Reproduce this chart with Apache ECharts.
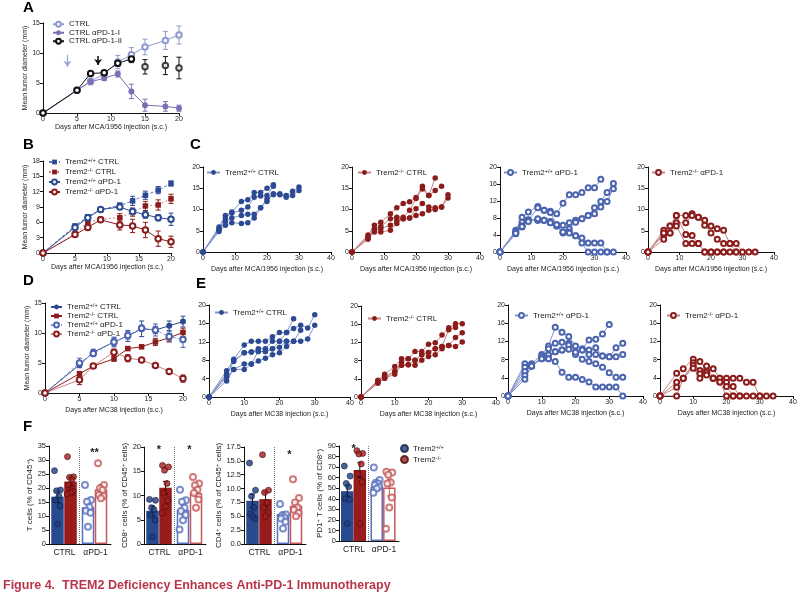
<!DOCTYPE html>
<html><head><meta charset="utf-8">
<script src="https://cdn.jsdelivr.net/npm/echarts@6/dist/echarts.min.js"></script>
<style>html,body{margin:0;padding:0;background:#fff}#c{width:807px;height:596px}</style>
</head><body><div id="c"></div>
<script>
// ================= DATA =================
// Panel A (MCA/1956)
const daysA = [0,5,7,9,11,13,15,18,20];
const A_ctrl = [0,3.8,5.3,6.5,8.5,9.7,11.0,12.1,13.0];
const A_ctrl_err = [0,0.4,0.5,0.6,1.1,1.2,1.3,1.5,1.5];
const A_pd1I = [0,3.8,5.2,5.8,6.5,3.6,1.3,1.1,0.8];
const A_pd1I_err = [0,0.4,0.5,0.4,0.5,1.2,1.0,0.8,0.5];
const A_pd1II = [0,3.8,6.6,6.7,8.3,9.0,7.7,7.9,7.5];
const A_pd1II_err = [0,0.3,0.3,0.3,0.5,0.6,1.2,1.5,1.8];
const A_arrows = [[3.6,9.7,7.7],[8.1,9.5,8.0]]; // [day, from, to]

// Panel B (MCA/1956 means)
const daysB = [0,5,7,9,12,14,16,18,20];
const B_wt_ctrl = [0,5.3,7.1,8.5,9.3,10.2,11.3,12.3,13.6];
const B_wt_ctrl_err = [0,0.3,0.4,0.4,0.5,0.9,0.8,0.7,0.5];
const B_ko_ctrl = [0,3.7,6.0,6.6,6.9,8.0,9.2,9.4,10.6];
const B_ko_ctrl_err = [0,0.3,0.4,0.3,0.8,0.8,0.9,1.0,0.9];
const B_wt_pd1 = [0,5.0,6.9,8.5,9.0,8.1,7.5,6.9,6.6];
const B_wt_pd1_err = [0,0.3,0.4,0.4,0.5,0.6,0.7,0.6,1.2];
const B_ko_pd1 = [0,3.6,5.0,6.5,5.5,5.3,4.5,2.8,2.2];
const B_ko_pd1_err = [0,0.4,0.5,0.5,1.0,1.3,1.5,1.5,1.1];

// Panel C (individual mice, MCA/1956)
const C1_mice = [
 [[0,0],[5,5.9],[7,8.6],[9,9.4],[12,11.9],[14,12.3],[16,14],[18,14],[20,15],[22,15.8]],
 [[0,0],[5,5.5],[7,8.0],[9,9.2],[12,9.8],[14,10.6],[16,12.9],[18,13.2],[20,13.3],[22,15.5]],
 [[0,0],[5,5.2],[7,7.2],[9,8.0],[12,8.6],[14,8.9],[16,8.9],[18,10.4],[20,11.9],[22,13.7],[24,13.7],[26,13.3],[28,14.3],[30,15.3]],
 [[0,0],[5,4.8],[7,6.3],[9,6.9],[12,6.7],[14,6.9],[16,8.0],[18,10.4],[20,12.5],[22,13.5],[24,13.5],[26,12.9],[28,13.3],[30,14.5]]
];
const C2_mice = [
 [[0,0],[5,4.0],[7,6.3],[9,7.0],[12,9.0],[14,10.4],[16,11.4],[18,11.8],[20,12.8],[22,15.5],[24,13.3],[26,17.4]],
 [[0,0],[5,3.6],[7,5.5],[9,6.0],[12,7.8],[14,8.2],[16,8.2],[18,9.8],[20,12.6],[22,14.8],[24,13.3],[26,14.5],[28,15.5]],
 [[0,0],[5,3.3],[7,5.2],[9,5.5],[12,6.3],[14,7.5],[16,7.8],[18,8.0],[20,10.2],[22,11.4],[24,10.6],[26,10.4],[28,10.6],[30,13.5]],
 [[0,0],[5,3.0],[7,4.7],[9,4.7],[12,5.1],[14,6.7],[16,7.8],[18,8.0],[20,8.6],[22,9.0],[24,9.8],[26,10.0],[28,10.6],[30,12.7]]
];
const C3_mice = [
 [[0,0],[5,5.1],[7,8.2],[9,9.4],[12,10.7],[14,9.8],[16,9.6],[18,9.0],[20,11.5],[22,13.5],[24,13.5],[26,14],[28,15.1],[30,15.1],[32,17.1]],
 [[0,0],[5,4.8],[7,7.0],[9,7.5],[12,10.4],[14,9.8],[16,9.3],[18,6.4],[20,6.3],[22,6.9],[24,7.5],[26,7.8],[28,8.6],[30,10.4],[32,11.9],[34,14],[36,16.1]],
 [[0,0],[5,4.3],[7,6.2],[9,7.6],[12,7.5],[14,7.5],[16,6.9],[18,6.1],[20,4.7],[22,5.5],[24,7.0],[26,7.8],[28,8.6],[30,9.0],[32,10.6],[34,11.9],[36,14.9]],
 [[0,0],[5,4.6],[7,5.9],[9,7.5],[12,7.5],[14,7.5],[16,7.2],[18,6.1],[20,4.5],[22,4.7],[24,3.8],[26,3.3],[28,2.1],[30,2.1],[32,2.1],[34,0]],
 [[0,0],[5,4.4],[7,6.0],[9,7.2],[12,7.8],[14,7.5],[16,6.9],[18,6.4],[20,4.7],[22,4.5],[24,3.8],[26,2.1],[28,0],[30,0],[32,0],[34,0],[36,0]]
];
const C4_mice = [
 [[0,0],[5,5.1],[7,6.1],[9,8.6],[12,8.6],[14,9.0],[16,8.2],[18,7.5],[20,6.1],[22,5.5],[24,5.1],[26,2],[28,0]],
 [[0,0],[5,4.1],[7,6.1],[9,6.9],[12,6.9],[14,8.6],[16,8.2],[18,6.3],[20,4.5],[22,3.0],[24,2],[26,2],[28,2],[30,0],[32,0],[34,0]],
 [[0,0],[5,3.0],[7,4.5],[9,8.6],[12,4.1],[14,3.9],[16,2],[18,0],[20,0],[22,0],[24,0],[26,0],[28,0]],
 [[0,0],[5,4.5],[7,4.5],[9,6.1],[12,2],[14,2],[16,2],[18,0],[20,0],[22,0],[24,0]]
];

// Panel D (MC38 means)
const daysD = [0,5,7,10,12,14,16,18,20];
const D_wt_ctrl = [0,4.7,6.8,8.5,9.5,10.7,10.5,11.2,11.9];
const D_wt_ctrl_err = [0,0.4,0.5,0.8,0.9,1.3,0.6,0.8,0.9];
const D_ko_ctrl = [0,3.2,4.5,5.7,7.4,7.7,8.5,9.2,10.1];
const D_ko_ctrl_err = [0,0.4,0.3,0.4,0.3,0.3,0.6,0.7,0.7];
const D_wt_pd1 = [0,5.0,6.6,8.5,9.6,10.8,10.5,9.4,8.9];
const D_wt_pd1_err = [0,0.8,0.5,0.6,0.6,0.5,1.0,0.8,1.3];
const D_ko_pd1 = [0,2.2,4.5,6.8,5.8,5.5,4.6,3.6,2.4];
const D_ko_pd1_err = [0,0.8,0.3,0.5,0.6,0.3,0.3,0.3,0.6];

// Panel E (individual mice, MC38)
const E1_mice = [
 [[0,0],[5,5.7],[7,8.2],[10,11.3],[12,12.1],[14,12.1],[16,12.1],[18,13.1],[20,14],[22,14],[24,17]],
 [[0,0],[5,5.0],[7,7.7],[10,9.6],[12,9.8],[14,10.5],[16,10.5],[18,12.1],[20,12.1],[22,14],[24,14.9],[26,15.6],[28,15],[30,17.9]],
 [[0,0],[5,4.6],[7,7.9],[10,9.6],[12,9.8],[14,9.9],[16,9.9],[18,10.5],[20,12.1],[22,12.1],[24,12.1],[26,14.5]],
 [[0,0],[5,3.5],[7,6.0],[10,6.0],[12,7.2],[14,7.8],[16,8.4],[18,9.2],[20,9.6],[22,11],[24,12.1],[26,12.1],[28,12.6],[30,15.6]],
 [[0,0],[5,4.3],[7,6.0],[10,7.2],[12,7.2],[14,9.9],[16,9.9],[18,10.5],[20,10.8],[22,12.1]]
];
const E2_mice = [
 [[0,0],[5,3.7],[7,5.0],[10,6.7],[12,8.4],[14,8.4],[16,10],[18,10],[20,11.6],[22,11.9],[24,13.6],[26,15.2],[28,16.1],[30,16.1]],
 [[0,0],[5,3.4],[7,4.6],[10,5.6],[12,7.6],[14,8.4],[16,8.1],[18,9.3],[20,9.8],[22,10.6],[24,11.1],[26,14.8],[28,15.3]],
 [[0,0],[5,3.2],[7,4.1],[10,5.6],[12,7.0],[14,7.1],[16,8.1],[18,9.3],[20,9.8],[22,10.6],[24,11.1],[26,11.3],[28,13.1],[30,14.1]],
 [[0,0],[5,3.0],[7,4.1],[10,5.0],[12,7.0],[14,7.1],[16,7.0],[18,8.1],[20,8.9],[22,9.3],[24,10.6],[26,11.3],[28,11.1],[30,12.1]]
];
const E3_mice = [
 [[0,0],[5,7.1],[7,7.1],[10,9.1],[12,11],[14,15.1],[16,14],[18,13.1],[20,11],[22,10.4],[24,12.3],[26,12.5],[28,13.6],[30,15.7]],
 [[0,0],[5,6.3],[7,6.6],[10,8.6],[12,10.4],[14,11.6],[16,11.8],[18,11.6],[20,9.6],[22,10.1],[24,10.1],[26,10.6],[28,8.8],[30,8.6],[32,10.6],[34,11.6]],
 [[0,0],[5,5.4],[7,6.6],[10,8.2],[12,9.0],[14,9.7],[16,10.1],[18,11.2],[20,9.1],[22,10.1],[24,9.1],[26,9.1],[28,8.8],[30,8.6],[32,8.6],[34,9.1]],
 [[0,0],[5,4.5],[7,6.6],[10,8.6],[12,8.2],[14,9.7],[16,10.1],[18,10.3],[20,9.6],[22,8.1],[24,7.6],[26,7.1],[28,6.3],[30,5.1],[32,4.1],[34,4.1]],
 [[0,0],[5,3.7],[7,6.6],[10,8.2],[12,8.2],[14,7.6],[16,5.2],[18,4.1],[20,4.1],[22,3.6],[24,3.1],[26,2],[28,2],[30,2],[32,2],[34,0]]
];
const E4_mice = [
 [[0,0],[5,5.0],[7,6.0],[10,8.1],[12,7.6],[14,5.6],[16,6.0],[18,3.9],[20,3.9],[22,3.9],[24,3.9],[26,3],[28,3],[30,0]],
 [[0,0],[5,3.0],[7,3.9],[10,7.3],[12,5.6],[14,6.6],[16,3.9],[18,3.1],[20,3.0],[22,2.1],[24,0],[26,0],[28,0],[30,0],[32,0],[34,0]],
 [[0,0],[5,1.9],[7,3.9],[10,6.7],[12,4.9],[14,5.1],[16,3.9],[18,3.9],[20,2.1],[22,0]],
 [[0,0],[5,0],[7,3.9],[10,6.1],[12,3.9],[14,4.6],[16,3.9],[18,3.1],[20,0],[22,0],[24,0]]
];

// Panel F (order: WT CTRL, KO CTRL, WT aPD-1, KO aPD-1)
const F_groups = ['CTRL','αPD-1'];
const F1_mean = [16.9,22.3,13.1,19.5], F1_sem = [2.0,1.5,1.3,1.7];
const F1_dots = [[26.2,19.3,19.0,17.1,15.7,13.6,7.1],[31.2,24.0,23.8,23.1,21.1,18.7,18.3,17.9],[21.1,15.7,15.1,13.1,11.9,11.2,6.2],[28.8,21.1,19.9,19.3,17.5,17.1,16.3]];
const F1_sig = [[1,32.6,'**']];
const F2_mean = [6.85,11.6,7.0,10.5], F2_sem = [1.0,1.3,1.0,0.8];
const F2_dots = [[9.2,9.0,7.5,7.1,6.0,4.9,1.5],[16.2,15.9,15.2,12.5,10.5,9.0,7.7,6.4],[11.2,9.0,8.7,7.5,6.8,6.0,4.9,3.0],[13.8,12.5,12.1,11.2,10.5,9.2,7.5]];
const F2_sig = [[0,19.3,'*'],[1,19.3,'*']];
const F3_mean = [7.8,8.1,5.4,6.9], F3_sem = [1.2,1.3,0.4,0.6];
const F3_dots = [[14.6,9.7,8.6,6.6,5.4,4.6,5.0],[16.1,9.7,9.3,7.5,6.6,5.6,5.0],[7.2,5.3,5.1,4.8,4.6,4.0,2.8],[11.7,8.3,7.5,6.6,6.2,5.6,5.0]];
const F3_sig = [[1,16.0,'*']];
const F4_mean = [47.2,67.2,51.3,50.7], F4_sem = [5,7,2.5,8];
const F4_dots = [[71,61.5,54.5,51.3,40.2,39.2,16.5],[85.6,83,82.4,73,64,56,16.5],[69.7,57.7,55.2,54.5,53,51.3,49.7,45.6],[65.5,65,62.7,55.5,54.5,41.2,31.7,11.7]];
const F4_sig = [[0,87,'*']];

// ================= BUILD =================
const FONT = "'Liberation Sans', Arial, sans-serif";
const NAVY='#2c4a93', DRED='#8c1c1c', LNAVY='#8394c8', LRED='#c48585', MBLUE='#4b64b0';
const RICH = {s:{fontSize:5.5, fontFamily:FONT, color:'#222', padding:[0,0,3,0]}};
const grid=[], xAxis=[], yAxis=[], series=[], legend=[], graphic=[];
const LAB = {
 A_c:'CTRL', A_1:'CTRL αPD-1-I', A_2:'CTRL αPD-1-II',
 B_wc:'Trem2{s|+/+} CTRL', B_kc:'Trem2{s|-/-} CTRL', B_wp:'Trem2{s|+/+} αPD-1', B_kp:'Trem2{s|-/-} αPD-1',
 D_wc:'Trem2{s|+/+} CTRL', D_kc:'Trem2{s|-/-} CTRL', D_wp:'Trem2{s|+/+} αPD-1', D_kp:'Trem2{s|-/-} αPD-1',
 C1:'Trem2{s|+/+} CTRL', C2:'Trem2{s|-/-} CTRL', C3:'Trem2{s|+/+} αPD-1', C4:'Trem2{s|-/-} αPD-1',
 E1:'Trem2{s|+/+} CTRL', E2:'Trem2{s|-/-} CTRL', E3:'Trem2{s|+/+} αPD-1', E4:'Trem2{s|-/-} αPD-1',
 F_wt:'Trem2{s|+/+}', F_ko:'Trem2{s|-/-}'
};
function axis(gi,c,isY){
  return {gridIndex:gi,type:c.type||'value',data:c.data,min:c.min,max:c.max,interval:c.interval,show:c.show!==false,
    name:c.name||'',nameLocation:'middle',nameGap:c.nameGap||12,nameRotate:isY?90:0,
    nameTextStyle:{fontSize:c.nameSize||7,fontFamily:FONT,color:'#222',rich:RICH},
    axisLine:{show:true,onZero:false,lineStyle:{color:'#111',width:1}},
    axisTick:{show:c.tick!==false,length:3,lineStyle:{color:'#111',width:1}},
    axisLabel:{fontSize:c.labelSize||7,fontFamily:FONT,color:'#222',margin:c.margin||3,formatter:c.fmt,interval:0},
    splitLine:{show:false}};
}
function addPanel(box,xc,yc){
  grid.push(Object.assign({},box)); const gi=grid.length-1;
  xAxis.push(axis(gi,xc,false)); yAxis.push(axis(gi,yc,true));
  return {gi, xi:xAxis.length-1, yi:yAxis.length-1};
}
const zip=(xs,ys)=>xs.map((x,i)=>[x,ys[i]]);
const zip3=(xs,ys,es)=>xs.map((x,i)=>[x,ys[i],es[i]]);
function line(ax,name,data,o){
  const s={type:'line',name,xAxisIndex:ax.xi,yAxisIndex:ax.yi,data,symbol:o.symbol,symbolSize:o.size||5,
    lineStyle:{color:o.lineColor||o.color,width:o.lw||1,type:o.dash||'solid'},
    itemStyle:{color:o.color,borderColor:o.color,borderWidth:o.bw==null?1:o.bw},z:o.z||3,emphasis:{disabled:true}};
  if(o.noLine){s.type='scatter';}
  if(o.markLine) s.markLine=o.markLine;
  series.push(s); return s;
}
function errBars(ax,pts,color,w){
  series.push({type:'custom',xAxisIndex:ax.xi,yAxisIndex:ax.yi,data:pts,z:2,silent:true,encode:{x:0,y:1},
    renderItem:(p,api)=>{const x=api.value(0),y=api.value(1),e=api.value(2); if(!e) return null;
      const t=api.coord([x,y+e]), b=api.coord([x,y-e]); const c=w||2.5; const st={stroke:color,lineWidth:1};
      return {type:'group',children:[
        {type:'line',shape:{x1:t[0],y1:t[1],x2:b[0],y2:b[1]},style:st},
        {type:'line',shape:{x1:t[0]-c,y1:t[1],x2:t[0]+c,y2:t[1]},style:st},
        {type:'line',shape:{x1:b[0]-c,y1:b[1],x2:b[0]+c,y2:b[1]},style:st}]};}});
}
function addLegend(names,left,top,o){
  o=o||{};
  const L={orient:'vertical',left,top,padding:0,itemGap:o.gap||0,itemWidth:o.w||12,itemHeight:o.h||6,selectedMode:false,
    data:names,formatter:n=>LAB[n],textStyle:{fontSize:o.fs||8,fontFamily:FONT,color:'#222',lineHeight:o.lh||9,rich:RICH}};
  if(o.icon) L.icon=o.icon;
  legend.push(L);
}
const XN_MCA='Days after MCA/1956 injection (s.c.)', XN_MC38='Days after MC38 injection (s.c.)', YN='Mean tumor diameter (mm)';

// ---- A ----
const axA=addPanel({left:43,top:23,width:136,height:90},{min:0,max:20,interval:5,name:XN_MCA,nameGap:11},{min:0,max:15,interval:5,name:YN,nameGap:10});
errBars(axA,zip3(daysA,A_ctrl,A_ctrl_err),'#8e9ad0');
errBars(axA,zip3(daysA,A_pd1I,A_pd1I_err),'#7b70b4');
errBars(axA,zip3(daysA,A_pd1II,A_pd1II_err),'#111');
line(axA,'A_c',zip(daysA,A_ctrl),{symbol:'emptyCircle',color:'#8e9ad0',size:5.5,
  markLine:{silent:true,symbol:['none','arrow'],symbolSize:6,label:{show:false},
   data:A_arrows.map((a,i)=>[{coord:[a[0],a[1]],lineStyle:{color:i?'#111':'#9aa4d8',width:i?1.6:1.2,type:'solid'}},{coord:[a[0],a[2]]}])}});
line(axA,'A_1',zip(daysA,A_pd1I),{symbol:'circle',color:'#7b70b4',size:6,bw:0});
const A_split=6;
line(axA,'A_2',zip(daysA,A_pd1II).slice(0,A_split),{symbol:'emptyCircle',color:'#111',size:5.5});
line(axA,'A_2',zip(daysA,A_pd1II).slice(A_split),{symbol:'emptyCircle',color:'#111',size:5.5,noLine:true});
addLegend(['A_c','A_1','A_2'],52,20,{lh:8.5,w:11});

// ---- B ----
const axB=addPanel({left:43,top:161,width:128,height:92},{min:0,max:20,interval:5,name:XN_MCA,nameGap:11},{min:0,max:18,interval:3,name:YN,nameGap:10});
errBars(axB,zip3(daysB,B_wt_ctrl,B_wt_ctrl_err),NAVY);
errBars(axB,zip3(daysB,B_ko_ctrl,B_ko_ctrl_err),DRED);
errBars(axB,zip3(daysB,B_wt_pd1,B_wt_pd1_err),NAVY);
errBars(axB,zip3(daysB,B_ko_pd1,B_ko_pd1_err),DRED);
line(axB,'B_wc',zip(daysB,B_wt_ctrl),{symbol:'rect',color:NAVY,lineColor:'#5b73b8',dash:[3,2],size:5.5,bw:0});
line(axB,'B_kc',zip(daysB,B_ko_ctrl),{symbol:'rect',color:DRED,lineColor:LRED,dash:[2,2],size:5.5,bw:0});
line(axB,'B_wp',zip(daysB,B_wt_pd1),{symbol:'emptyCircle',color:NAVY,size:5.5});
line(axB,'B_kp',zip(daysB,B_ko_pd1),{symbol:'emptyCircle',color:DRED,size:5.5});
addLegend(['B_wc','B_kc','B_wp','B_kp'],48,157,{lh:10,w:11});

// ---- C & E ----
function micePanel(key,box,yInt,mice,filled,color,lcolor,xname,leg){
  const ax=addPanel(box,{min:0,max:40,interval:10,name:xname,nameGap:14},{min:0,max:20,interval:yInt});
  mice.forEach(m=>line(ax,key,m,{symbol:filled?'circle':'emptyCircle',color,lineColor:lcolor,size:filled?5.5:5,bw:filled?0:1}));
  addLegend([key],leg[0],leg[1],{w:13,lh:9});
}
micePanel('C1',{left:203,top:167,width:128,height:85},5,C1_mice,true,NAVY,LNAVY,XN_MCA,[206,168]);
micePanel('C2',{left:352,top:167,width:128,height:85},5,C2_mice,true,DRED,LRED,XN_MCA,[357,168]);
micePanel('C3',{left:500,top:167,width:126,height:85},4,C3_mice,false,MBLUE,LNAVY,XN_MCA,[503,168]);
micePanel('C4',{left:648,top:167,width:126,height:85},5,C4_mice,false,DRED,LRED,XN_MCA,[651,168]);
micePanel('E1',{left:209,top:305,width:141,height:92},4,E1_mice,true,NAVY,LNAVY,XN_MC38,[214,308]);
micePanel('E2',{left:361,top:306,width:135,height:91},4,E2_mice,true,DRED,LRED,XN_MC38,[367,314]);
micePanel('E3',{left:508,top:305,width:135,height:91},4,E3_mice,false,MBLUE,LNAVY,XN_MC38,[514,311]);
micePanel('E4',{left:660,top:305,width:133,height:91},4,E4_mice,false,DRED,LRED,XN_MC38,[666,311]);

// ---- D ----
const axD=addPanel({left:45,top:303,width:138,height:90},{min:0,max:20,interval:5,name:XN_MC38,nameGap:14},{min:0,max:15,interval:5,name:YN,nameGap:10});
errBars(axD,zip3(daysD,D_wt_ctrl,D_wt_ctrl_err),NAVY);
errBars(axD,zip3(daysD,D_ko_ctrl,D_ko_ctrl_err),DRED);
errBars(axD,zip3(daysD,D_wt_pd1,D_wt_pd1_err),MBLUE);
errBars(axD,zip3(daysD,D_ko_pd1,D_ko_pd1_err),DRED);
line(axD,'D_wc',zip(daysD,D_wt_ctrl),{symbol:'circle',color:NAVY,size:6,bw:0});
line(axD,'D_kc',zip(daysD,D_ko_ctrl),{symbol:'rect',color:DRED,size:5.5,bw:0});
line(axD,'D_wp',zip(daysD,D_wt_pd1),{symbol:'emptyCircle',color:MBLUE,lineColor:LNAVY,dash:[3,2],size:5.5});
line(axD,'D_kp',zip(daysD,D_ko_pd1),{symbol:'emptyCircle',color:DRED,lineColor:LRED,size:5.5});
addLegend(['D_wc','D_kc','D_wp','D_kp'],50,302.5,{lh:9,w:11});

// ---- F ----
const BAR_X=[8.5,21.5,39,52], GROUP_X=[15,45.5], DIV_X=30.5, JIT=[-3,3,-1,1.5,-2,2.5,0,-3.5];
const BAR_STYLE=[{color:'#284a8f'},{color:'#991c1c'},{color:'#fff',borderColor:'#5a72bd',borderWidth:1.5},{color:'#fff',borderColor:'#c4595a',borderWidth:1.5}];
const ERR_COL=['#111','#111','#5a72bd','#c4595a'];
const DOT=[{n:'F_wt',sym:'circle',c:'#1f3c80',b:'#0f1f4a',bw:0.8},{n:'F_ko',sym:'circle',c:'#a31d1d',b:'#4a0a0a',bw:0.8},
           {n:'F_wto',sym:'emptyCircle',c:'#5a72bd',b:'#5a72bd',bw:1.3},{n:'F_koo',sym:'emptyCircle',c:'#c4595a',b:'#c4595a',bw:1.3}];
function barPanel(box,yc,means,sems,dots,sigs){
  grid.push(Object.assign({},box)); const gi=grid.length-1;
  xAxis.push(axis(gi,{type:'category',data:F_groups,tick:false,labelSize:8.5,margin:4},false));
  xAxis.push({gridIndex:gi,type:'value',min:0,max:62,show:false}); const xi=xAxis.length-1;
  yAxis.push(axis(gi,yc,true)); const yi=yAxis.length-1;
  const ax={xi,yi};
  series.push({type:'bar',xAxisIndex:xi,yAxisIndex:yi,barWidth:12.5,z:1,silent:true,
    data:means.map((m,i)=>({value:[BAR_X[i],m],itemStyle:BAR_STYLE[i]})),
    markLine:{silent:true,symbol:['none','none'],label:{show:false},lineStyle:{type:'dotted',color:'#777',width:1},
      data:[[{coord:[DIV_X,yc.min]},{coord:[DIV_X,yc.max]}]]}});
  means.forEach((m,i)=>errBars(ax,[[BAR_X[i],m,sems[i]]],ERR_COL[i],2.5));
  dots.forEach((d,i)=>{const D=DOT[i];
    series.push({type:'scatter',name:D.n,xAxisIndex:xi,yAxisIndex:yi,symbol:D.sym,symbolSize:6,z:4,
      itemStyle:{color:D.c,borderColor:D.b,borderWidth:D.bw},data:d.map((v,j)=>[BAR_X[i]+JIT[j%JIT.length],v])});});
  series.push({type:'custom',xAxisIndex:xi,yAxisIndex:yi,silent:true,z:5,data:sigs.map(s=>[GROUP_X[s[0]],s[1],s[2]]),encode:{x:0,y:1},
    renderItem:(p,api)=>{const pt=api.coord([api.value(0),api.value(1)]);const d=sigs[p.dataIndex];
      return {type:'text',x:pt[0],y:pt[1],style:{text:d[2],font:'bold 11px '+FONT,fill:'#222',textAlign:'center',textVerticalAlign:'middle'}};}});
}
barPanel({left:49,top:446,width:62,height:98},{min:0,max:35,interval:5,name:'T cells (% of CD45{s|+})',nameGap:13,nameSize:8,labelSize:7.5},F1_mean,F1_sem,F1_dots,F1_sig);
barPanel({left:144,top:447,width:62,height:97},{min:0,max:20,interval:5,name:'CD8{s|+} cells (% of CD45{s|+} cells)',nameGap:14,nameSize:8,labelSize:7.5},F2_mean,F2_sem,F2_dots,F2_sig);
barPanel({left:244,top:447,width:62,height:97},{min:0,max:17.5,interval:2.5,fmt:v=>v.toFixed(1),name:'CD4{s|+} cells (% of CD45{s|+} cells)',nameGap:19,nameSize:8,labelSize:7.5},F3_mean,F3_sem,F3_dots,F3_sig);
barPanel({left:339,top:446,width:60,height:95},{min:0,max:90,interval:10,name:'PD1{s|+} T cells (% of CD8{s|+})',nameGap:14,nameSize:8,labelSize:7.5},F4_mean,F4_sem,F4_dots,F4_sig);
addLegend(['F_wt','F_ko'],400,444,{icon:'circle',w:7,h:7,gap:2,lh:8});

// ---- letters & caption ----
[['A',23,7.5],['B',23,144.5],['C',190,145],['D',23,281],['E',196,284],['F',23,426.5]].forEach(t=>{
  graphic.push({type:'text',x:t[1],y:t[2],style:{text:t[0],font:'bold 15px '+FONT,fill:'#000',textVerticalAlign:'middle'}});
});
graphic.push({type:'text',x:3,y:586,style:{text:'Figure 4.  TREM2 Deficiency Enhances Anti-PD-1 Immunotherapy',font:'bold 12.5px '+FONT,fill:'#b8364a',textVerticalAlign:'middle'}});

const chart=echarts.init(document.getElementById('c'),null,{renderer:'canvas'});
chart.setOption({animation:false,backgroundColor:'#fff',grid,xAxis,yAxis,series,legend,graphic,tooltip:{show:false}});
</script></body></html>
